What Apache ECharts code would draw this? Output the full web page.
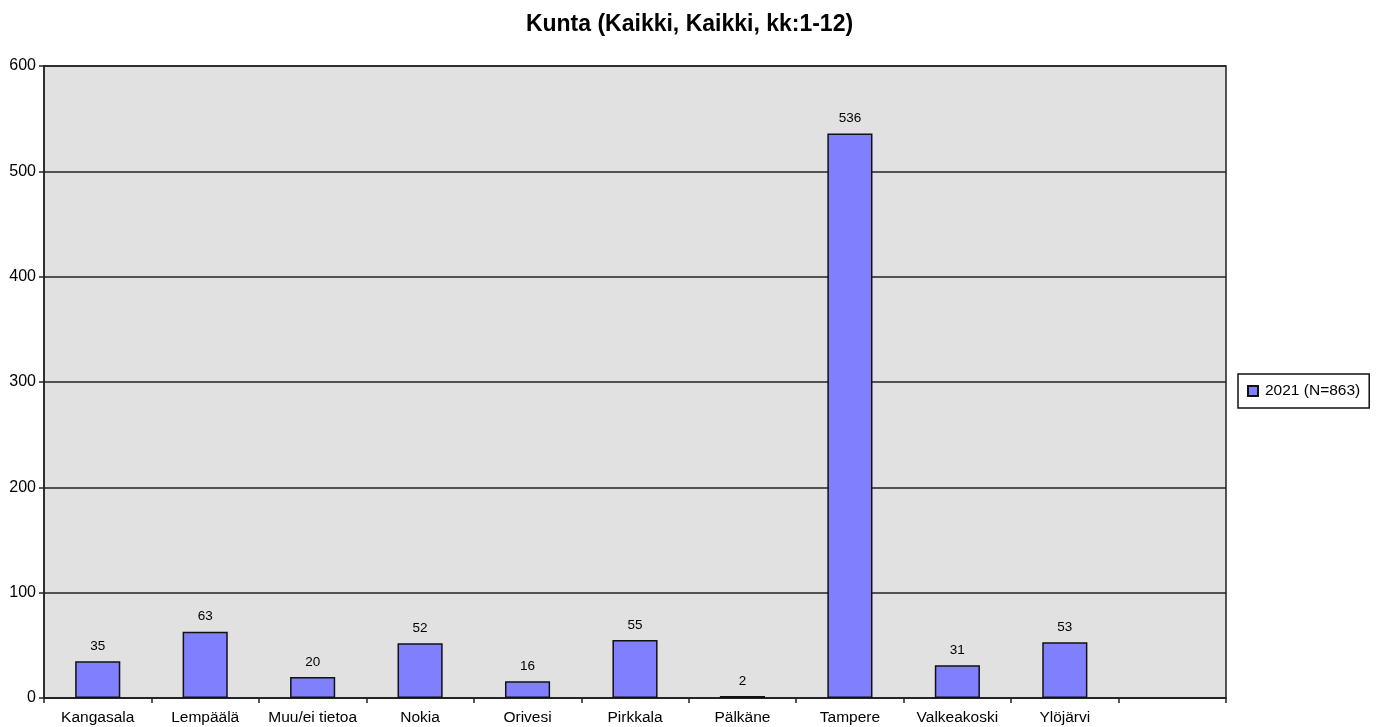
<!DOCTYPE html>
<html>
<head>
<meta charset="utf-8">
<script src="https://cdn.jsdelivr.net/npm/echarts@6/dist/echarts.min.js"></script>
<style>html,body{margin:0;padding:0;background:#fff}#c{width:1379px;height:727px}</style>
</head>
<body>
<div id="c"></div>
<script>
const categories = ['Kangasala','Lempäälä','Muu/ei tietoa','Nokia','Orivesi','Pirkkala','Pälkäne','Tampere','Valkeakoski','Ylöjärvi',''];
const values2021 = [35,63,20,52,16,55,2,536,31,53,null];
const seriesName = '2021 (N=863)';
const titleText = 'Kunta (Kaikki, Kaikki, kk:1-12)';
const yTicks = [0,100,200,300,400,500,600];

const chart = echarts.init(document.getElementById('c'));
const font = 'Liberation Sans, Arial, sans-serif';
chart.setOption({
  animation: false,
  title: {
    text: titleText, left: 'center', top: 8,
    textStyle: {fontFamily: font, fontSize: 23, fontWeight: 'bold', color: '#000'}
  },
  legend: {
    left: 1238, top: 374, orient: 'vertical',
    backgroundColor: '#fff', borderColor: '#111', borderWidth: 1.5,
    padding: [9, 9, 9, 9], itemWidth: 10, itemHeight: 10, itemGap: 5,
    icon: 'rect',
    textStyle: {fontFamily: font, fontSize: 15.5, color: '#000', padding: [0,0,0,2]},
    data: [seriesName]
  },
  grid: {
    left: 44, right: 153, top: 66, bottom: 29,
    show: true, backgroundColor: '#e1e1e1', borderColor: '#222', borderWidth: 1.5
  },
  xAxis: {
    type: 'category', data: categories,
    axisLine: {lineStyle: {color: '#222', width: 1.5}},
    axisTick: {show: true, alignWithLabel: false, length: 5, lineStyle: {color: '#222', width: 1.5}},
    axisLabel: {interval: 0, fontFamily: font, fontSize: 15.5, color: '#000', margin: 12}
  },
  yAxis: {
    type: 'value', min: 0, max: 600, interval: 100,
    axisLine: {show: true, lineStyle: {color: '#222', width: 1.5}},
    axisTick: {show: true, length: 5, lineStyle: {color: '#222', width: 1.5}},
    splitLine: {show: true, lineStyle: {color: '#222', width: 1.5}},
    axisLabel: {fontFamily: font, fontSize: 16, color: '#000', margin: 8,
      formatter: v => yTicks.includes(v) ? String(v) : ''}
  },
  series: [{
    name: seriesName, type: 'bar', data: values2021, barWidth: '42%',
    itemStyle: {color: '#8080ff', borderColor: '#111', borderWidth: 1.5},
    label: {show: true, position: 'top', distance: 8, fontFamily: font, fontSize: 13.5, color: '#000'}
  }]
});
</script>
</body>
</html>
